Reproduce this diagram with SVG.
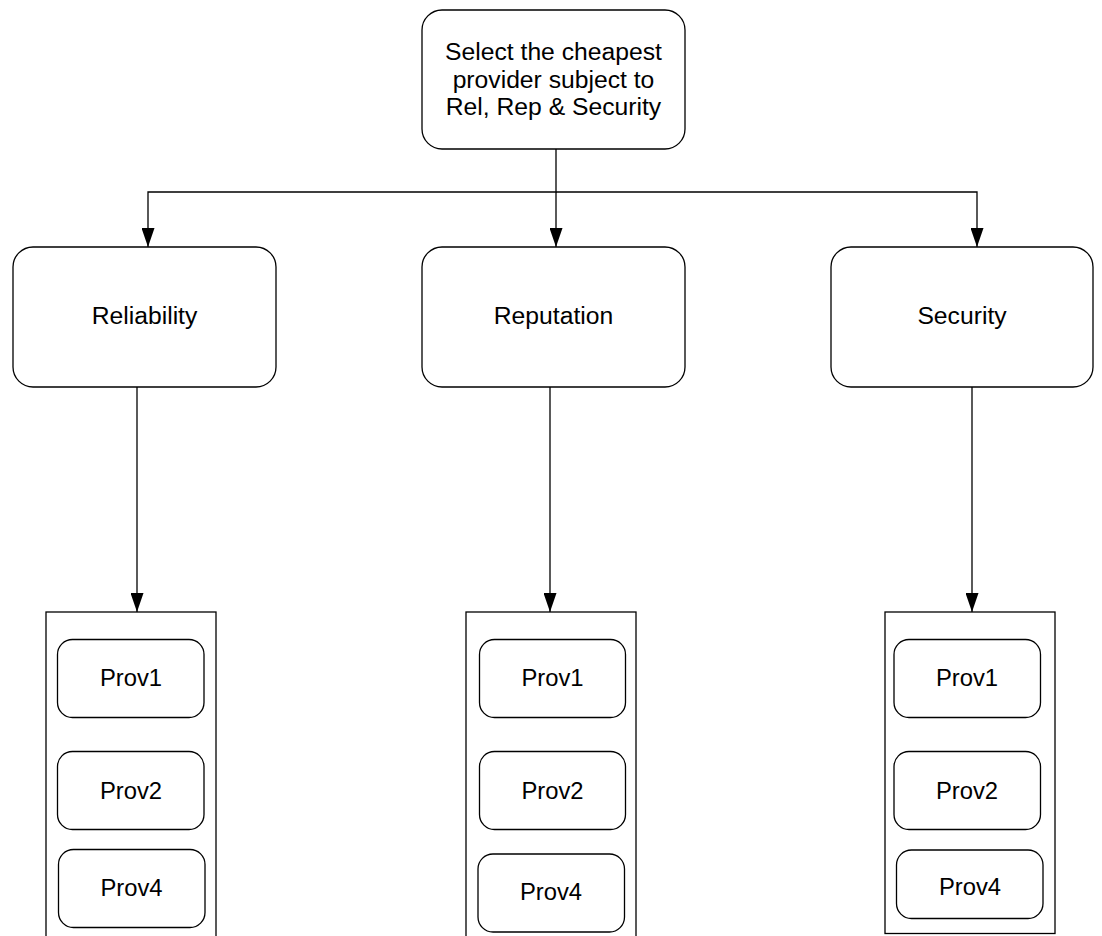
<svg xmlns="http://www.w3.org/2000/svg" width="1102" height="936" viewBox="0 0 1102 936">
<style>
.box{fill:#fff;stroke:#000;stroke-width:1.3}
.cont{fill:#fff;stroke:#000;stroke-width:1.3}
.lbl{font-family:"Liberation Sans",Arial,sans-serif;font-size:24.7px;fill:#000;text-anchor:middle}
.prov{font-family:"Liberation Sans",Arial,sans-serif;font-size:23.8px;fill:#000;text-anchor:middle}
.con{fill:none;stroke:#000;stroke-width:1.3}
</style>
<defs>
<marker id="arr" markerUnits="userSpaceOnUse" markerWidth="19" markerHeight="13" viewBox="0 0 19 13" refX="19" refY="6.5" orient="auto">
<path d="M0,0 L19,6.5 L0,13 z" fill="#000"/>
</marker>
</defs>
<rect width="1102" height="936" fill="#fff"/>
<g id="top">
<rect class="box" x="422" y="10" width="263" height="139" rx="20"/>
<text class="lbl" x="553.5" y="60">Select the cheapest</text>
<text class="lbl" x="553.5" y="87.5">provider subject to</text>
<text class="lbl" x="553.5" y="115">Rel, Rep &amp; Security</text>
</g>
<g id="reliability">
<rect class="box" x="13" y="247" width="263" height="140" rx="20"/>
<text class="lbl" x="144.5" y="324">Reliability</text>
</g>
<g id="reputation">
<rect class="box" x="422" y="247" width="263" height="140" rx="20"/>
<text class="lbl" x="553.5" y="324">Reputation</text>
</g>
<g id="security">
<rect class="box" x="831" y="247" width="262" height="140" rx="20"/>
<text class="lbl" x="962" y="324">Security</text>
</g>
<g id="rel-providers">
<rect class="cont" x="46" y="612" width="170" height="340"/>
<g id="rel-prov1"><rect class="box" x="57.5" y="639.5" width="146.5" height="78" rx="15"/><text class="prov" x="131" y="686">Prov1</text></g>
<g id="rel-prov2"><rect class="box" x="57.5" y="751.5" width="146.5" height="78" rx="15"/><text class="prov" x="131" y="798.5">Prov2</text></g>
<g id="rel-prov4"><rect class="box" x="58.5" y="849.5" width="146.5" height="78" rx="15"/><text class="prov" x="131.5" y="896">Prov4</text></g>
</g>
<g id="rep-providers">
<rect class="cont" x="466" y="612" width="170" height="340"/>
<g id="rep-prov1"><rect class="box" x="479.5" y="639.5" width="146" height="78" rx="15"/><text class="prov" x="552.5" y="686">Prov1</text></g>
<g id="rep-prov2"><rect class="box" x="479.5" y="751.5" width="146" height="78" rx="15"/><text class="prov" x="552.5" y="798.5">Prov2</text></g>
<g id="rep-prov4"><rect class="box" x="478" y="854" width="146.5" height="78" rx="15"/><text class="prov" x="551" y="899.5">Prov4</text></g>
</g>
<g id="sec-providers">
<rect class="cont" x="885" y="612" width="170" height="321.5"/>
<g id="sec-prov1"><rect class="box" x="894" y="639.5" width="146.5" height="78" rx="15"/><text class="prov" x="967" y="686">Prov1</text></g>
<g id="sec-prov2"><rect class="box" x="894" y="751.5" width="146.5" height="78" rx="15"/><text class="prov" x="967" y="798.5">Prov2</text></g>
<g id="sec-prov4"><rect class="box" x="896.5" y="850" width="146.5" height="68.5" rx="15"/><text class="prov" x="970" y="895">Prov4</text></g>
</g>
<g id="connectors">
<path class="con" d="M556,149 V192 H148 V247" marker-end="url(#arr)"/>
<path class="con" d="M556,192 V247" marker-end="url(#arr)"/>
<path class="con" d="M556,192 H977 V247" marker-end="url(#arr)"/>
<path class="con" d="M137,387 V612" marker-end="url(#arr)"/>
<path class="con" d="M550,387 V612" marker-end="url(#arr)"/>
<path class="con" d="M972,387 V612" marker-end="url(#arr)"/>
</g>
</svg>
